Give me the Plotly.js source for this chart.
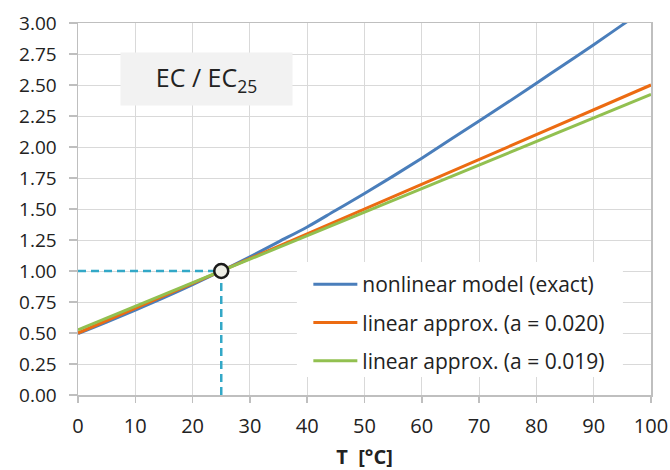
<!DOCTYPE html>
<html>
<head>
<meta charset="utf-8">
<script src="https://cdn.plot.ly/plotly-3.0.1.min.js"></script>
<style>html,body{margin:0;padding:0;background:#fff;}#chart{width:670px;height:470px;}</style>
</head>
<body>
<div id="chart"></div>
<script>
// Temperature T [°C]
const tempNonlinear = [0, 5, 10, 15, 20, 25, 30, 35, 40, 45, 50, 55, 60, 65, 70, 75, 80, 85, 90, 95, 100];
// EC / EC25, nonlinear model (exact)
const ecNonlinear = [0.495, 0.588, 0.685, 0.785, 0.89, 1.0, 1.115, 1.235, 1.355, 1.49, 1.625, 1.765, 1.91, 2.06, 2.21, 2.36, 2.515, 2.67, 2.825, 2.985, 3.145];
// linear approximations (end points and reference point)
const tempLinear = [0, 25, 100];
const ecLinear020 = [0.50, 1.0, 2.50];
const ecLinear019 = [0.525, 1.0, 2.425];
// reference point
const refT = [25];
const refEC = [1.0];
const seriesNames = ['nonlinear model (exact)', 'linear approx. (a = 0.020)', 'linear approx. (a = 0.019)'];
const xTicks = [0, 10, 20, 30, 40, 50, 60, 70, 80, 90, 100];
const yTicks = [0, 0.25, 0.5, 0.75, 1.0, 1.25, 1.5, 1.75, 2.0, 2.25, 2.5, 2.75, 3.0];

const font = '"Open Sans", "Liberation Sans", sans-serif';
const dashColor = '#33a8c7';

const traces = [
  {x: [0, refT[0]], y: [refEC[0], refEC[0]], mode: 'lines', line: {color: dashColor, width: 2.5, dash: '8px,5px'}, showlegend: false, hoverinfo: 'skip'},
  {x: [refT[0], refT[0]], y: [0, refEC[0]], mode: 'lines', line: {color: dashColor, width: 2.5, dash: '8px,5px'}, showlegend: false, hoverinfo: 'skip'},
  {x: tempNonlinear, y: ecNonlinear, name: seriesNames[0], mode: 'lines', line: {color: '#4a7ebb', width: 3, shape: 'spline'}, legendgroup: 'a'},
  {x: tempLinear, y: ecLinear020, name: seriesNames[1], mode: 'lines', line: {color: '#ec6b12', width: 3}, legendgroup: 'b'},
  {x: tempLinear, y: ecLinear019, name: seriesNames[2], mode: 'lines', line: {color: '#92c050', width: 3}, legendgroup: 'c'},
  {x: refT, y: refEC, mode: 'markers', marker: {size: 14, color: '#eeeee6', line: {color: '#1a1a1a', width: 2.5}}, showlegend: false, hoverinfo: 'skip'}
];

const layout = {
  width: 670, height: 470,
  margin: {l: 78, r: 19, t: 23, b: 75},
  paper_bgcolor: '#ffffff', plot_bgcolor: '#ffffff',
  font: {family: font, color: '#222222'},
  showlegend: true,
  legend: {
    x: 0.402, y: 0.352, xanchor: 'left', yanchor: 'top',
    bgcolor: 'rgba(255,255,255,0)', borderwidth: 0,
    font: {family: font, size: 21, color: '#222222'},
    traceorder: 'grouped', tracegroupgap: 8, itemwidth: 44
  },
  shapes: [{
    type: 'rect', xref: 'x', yref: 'y', layer: 'between',
    x0: 38.2, x1: 95.1, y0: 0.145, y1: 1.073,
    fillcolor: '#ffffff', line: {width: 0}
  }],
  xaxis: {
    range: [0, 100], tickvals: xTicks, ticktext: xTicks.map(String),
    showgrid: true, gridcolor: '#d9d9d9', gridwidth: 1,
    showline: true, linecolor: '#bfbfbf', linewidth: 1.5, mirror: true,
    ticks: 'outside', ticklen: 6, tickcolor: '#bfbfbf', tickwidth: 1.5,
    tickfont: {family: font, size: 20, color: '#222222'},
    ticklabelstandoff: 6,
    zeroline: false,
    title: {text: '<b>T  [°C]</b>', font: {family: font, size: 20, color: '#222222'}, standoff: 14}
  },
  yaxis: {
    range: [0, 3], tickvals: yTicks, ticktext: yTicks.map(v => v.toFixed(2)),
    showgrid: true, gridcolor: '#d9d9d9', gridwidth: 1,
    showline: true, linecolor: '#bfbfbf', linewidth: 1.5, mirror: true,
    ticks: 'outside', ticklen: 8, tickcolor: '#bfbfbf', tickwidth: 1.5,
    tickfont: {family: font, size: 19, color: '#222222'},
    ticklabelstandoff: 8,
    zeroline: false
  },
  annotations: [{
    xref: 'x', yref: 'y', x: 22.5, y: 2.55,
    text: 'EC / EC<sub>25</sub>', showarrow: false,
    bgcolor: '#f2f2f2', width: 169, height: 50,
    font: {family: font, size: 25, color: '#222222'}
  }]
};

Plotly.newPlot('chart', traces, layout, {displayModeBar: false, staticPlot: true});
</script>
</body>
</html>
